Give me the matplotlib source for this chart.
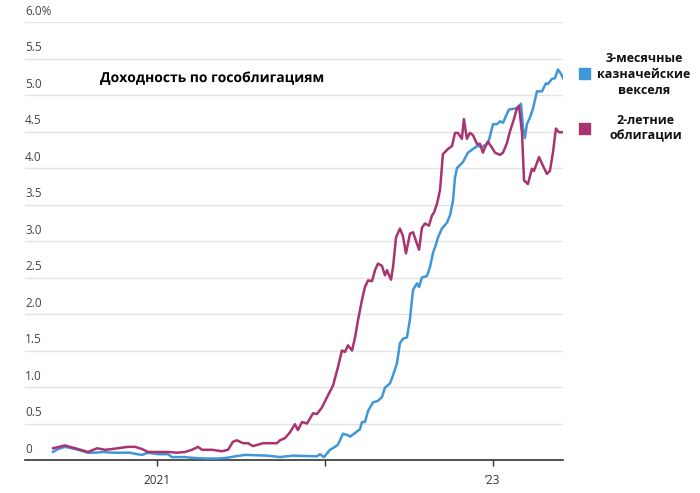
import matplotlib.pyplot as plt
import matplotlib.patheffects as pe
import matplotlib.transforms as mtransforms
from matplotlib.patches import Rectangle

# decimal years and yields (%)
t2y_years = [
    2020.381, 2020.452, 2020.482, 2020.530, 2020.589, 2020.643, 2020.690, 2020.732,
    2020.827, 2020.869, 2020.911, 2020.946, 2021.006, 2021.065, 2021.119, 2021.167,
    2021.208, 2021.244, 2021.268, 2021.327, 2021.387, 2021.423, 2021.452, 2021.476,
    2021.512, 2021.542, 2021.571, 2021.631, 2021.673, 2021.714, 2021.732, 2021.762,
    2021.792, 2021.821, 2021.839, 2021.863, 2021.893, 2021.929, 2021.952, 2021.982,
    2022.012, 2022.048, 2022.077, 2022.101, 2022.119, 2022.137, 2022.161, 2022.179,
    2022.196, 2022.220, 2022.238, 2022.256, 2022.280, 2022.298, 2022.315, 2022.339,
    2022.357, 2022.369, 2022.393, 2022.405, 2022.423, 2022.446, 2022.464, 2022.482,
    2022.506, 2022.524, 2022.548, 2022.560, 2022.577, 2022.595, 2022.619, 2022.637,
    2022.649, 2022.667, 2022.685, 2022.702, 2022.732, 2022.756, 2022.774, 2022.792,
    2022.815, 2022.827, 2022.845, 2022.863, 2022.881, 2022.905, 2022.923, 2022.940,
    2022.952, 2022.970, 2022.994, 2023.012, 2023.042, 2023.060, 2023.083, 2023.101,
    2023.125, 2023.143, 2023.155, 2023.173, 2023.185, 2023.208, 2023.232, 2023.244,
    2023.262, 2023.274, 2023.298, 2023.321, 2023.339, 2023.357, 2023.375, 2023.393,
    2023.417,
]
t2y_vals = [
    0.16, 0.20, 0.18, 0.15, 0.11, 0.16, 0.14, 0.15,
    0.18, 0.18, 0.15, 0.11, 0.11, 0.11, 0.10, 0.11,
    0.14, 0.18, 0.14, 0.14, 0.12, 0.14, 0.25, 0.27,
    0.23, 0.23, 0.19, 0.23, 0.23, 0.23, 0.27, 0.30,
    0.38, 0.49, 0.41, 0.52, 0.50, 0.64, 0.63, 0.72,
    0.86, 1.02, 1.27, 1.50, 1.48, 1.57, 1.50, 1.68,
    1.91, 2.19, 2.37, 2.46, 2.45, 2.60, 2.69, 2.66,
    2.53, 2.60, 2.47, 2.64, 3.05, 3.17, 3.07, 2.83,
    3.10, 3.12, 2.96, 2.88, 3.18, 3.24, 3.21, 3.35,
    3.39, 3.51, 3.70, 4.19, 4.26, 4.30, 4.48, 4.48,
    4.40, 4.67, 4.40, 4.48, 4.45, 4.33, 4.33, 4.21,
    4.28, 4.36, 4.28, 4.21, 4.18, 4.21, 4.34, 4.50,
    4.67, 4.82, 4.85, 4.48, 3.83, 3.78, 3.99, 3.96,
    4.07, 4.15, 4.03, 3.92, 3.96, 4.21, 4.54, 4.49,
    4.49,
]

t3m_years = [
    2020.381, 2020.411, 2020.452, 2020.494, 2020.530, 2020.589, 2020.631, 2020.679,
    2020.732, 2020.780, 2020.839, 2020.881, 2020.911, 2020.946, 2021.006, 2021.065,
    2021.089, 2021.125, 2021.167, 2021.208, 2021.286, 2021.363, 2021.417, 2021.464,
    2021.524, 2021.655, 2021.732, 2021.810, 2021.952, 2021.970, 2021.994, 2022.030,
    2022.060, 2022.077, 2022.089, 2022.107, 2022.137, 2022.149, 2022.179, 2022.208,
    2022.220, 2022.238, 2022.256, 2022.286, 2022.315, 2022.339, 2022.357, 2022.387,
    2022.405, 2022.429, 2022.446, 2022.464, 2022.488, 2022.506, 2022.524, 2022.548,
    2022.560, 2022.577, 2022.607, 2022.625, 2022.643, 2022.655, 2022.673, 2022.696,
    2022.726, 2022.744, 2022.762, 2022.774, 2022.786, 2022.821, 2022.851, 2022.881,
    2022.905, 2022.935, 2022.958, 2022.976, 2023.000, 2023.024, 2023.042, 2023.060,
    2023.077, 2023.095, 2023.119, 2023.143, 2023.167, 2023.179, 2023.190, 2023.202,
    2023.220, 2023.238, 2023.262, 2023.292, 2023.315, 2023.327, 2023.351, 2023.369,
    2023.387, 2023.405, 2023.417,
]
t3m_vals = [
    0.11, 0.15, 0.18, 0.16, 0.14, 0.10, 0.10, 0.11,
    0.10, 0.10, 0.10, 0.08, 0.07, 0.10, 0.08, 0.08,
    0.04, 0.04, 0.04, 0.03, 0.02, 0.02, 0.03, 0.05,
    0.07, 0.06, 0.04, 0.06, 0.05, 0.08, 0.04, 0.14,
    0.18, 0.21, 0.27, 0.36, 0.34, 0.32, 0.37, 0.42,
    0.52, 0.52, 0.67, 0.79, 0.81, 0.86, 0.99, 1.05,
    1.16, 1.33, 1.60, 1.66, 1.68, 1.93, 2.33, 2.42,
    2.37, 2.50, 2.52, 2.64, 2.84, 2.91, 3.05, 3.17,
    3.25, 3.35, 3.55, 3.87, 4.00, 4.08, 4.21, 4.26,
    4.30, 4.29, 4.32, 4.38, 4.60, 4.60, 4.64, 4.62,
    4.71, 4.80, 4.81, 4.82, 4.88, 4.55, 4.41, 4.60,
    4.69, 4.81, 5.05, 5.05, 5.16, 5.15, 5.22, 5.23,
    5.35, 5.29, 5.23,
]

y_ticks = [0, 0.5, 1.0, 1.5, 2.0, 2.5, 3.0, 3.5, 4.0, 4.5, 5.0, 5.5, 6.0]
y_labels = ['0', '0.5', '1.0', '1.5', '2.0', '2.5', '3.0', '3.5', '4.0', '4.5', '5.0', '5.5', '6.0%']
x_ticks = [2021, 2022, 2023]
x_labels = ['2021', '', '\u201923']

title = 'Доходность по гособлигациям'
legend_labels = ['3-месячные\nказначейские\nвекселя', '2-летние\nоблигации']

blue = '#3f96d8'
purple = '#a8336f'

W, H = 700, 493
fig = plt.figure(figsize=(W / 100, H / 100), dpi=100)
ax = fig.add_axes([25 / W, (H - 460) / H, (563 - 25) / W, (460 - 22) / H])

ax.set_xlim(2020.214, 2023.417)
ax.set_ylim(0, 6)

for v in y_ticks[1:]:
    ax.axhline(v, color='#e3e3e3', lw=1, zorder=0)

ax.plot(t3m_years, t3m_vals, color=blue, lw=1.8, zorder=3, solid_joinstyle='round')
ax.plot(t2y_years, t2y_vals, color=purple, lw=1.8, zorder=3, solid_joinstyle='round')

for s in ['top', 'right', 'left']:
    ax.spines[s].set_visible(False)
ax.spines['bottom'].set_color('#333333')
ax.spines['bottom'].set_linewidth(1.2)
ax.set_yticks([])
ax.set_xticks(x_ticks)
ax.set_xticklabels(x_labels, fontsize=8.5, color='#333333', family='Open Sans')
ax.tick_params(axis='x', length=4, width=1, color='#333333', pad=6)

trans = mtransforms.blended_transform_factory(ax.transAxes, ax.transData)
offset = mtransforms.offset_copy(trans, fig=fig, x=0, y=3, units='points')
for v, lab in zip(y_ticks, y_labels):
    ax.text(0, v, lab, transform=offset, ha='left', va='bottom',
            fontsize=8.5, color='#444444', family='Open Sans')

fig.text(100 / W, 1 - 78 / H, title, ha='left', va='center', fontsize=10,
         fontweight='bold', family='Open Sans', color='black',
         path_effects=[pe.withStroke(linewidth=3, foreground='white')])

fig.patches.append(Rectangle((579 / W, 1 - 79 / H), 11 / W, 11 / H,
                             transform=fig.transFigure, color=blue))
fig.patches.append(Rectangle((579 / W, 1 - 134 / H), 11 / W, 11 / H,
                             transform=fig.transFigure, color=purple))
fig.text(644 / W, 1 - 74 / H, legend_labels[0], ha='center', va='center',
         fontsize=9, fontweight='bold', family='Open Sans', color='#111111',
         linespacing=1.3)
fig.text(646 / W, 1 - 128 / H, legend_labels[1], ha='center', va='center',
         fontsize=9, fontweight='bold', family='Open Sans', color='#111111',
         linespacing=1.3)

fig.savefig('out.png', dpi=100)
